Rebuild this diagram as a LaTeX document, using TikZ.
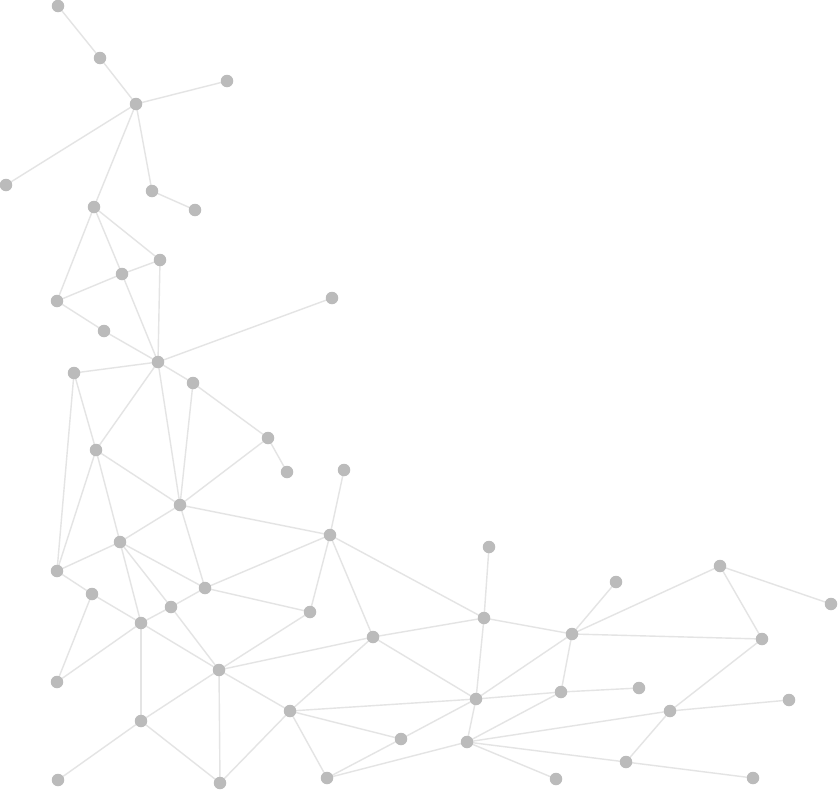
\documentclass[tikz,border=0pt]{standalone}
\begin{document}
\begin{tikzpicture}[x=1pt,y=-1pt,
  dot/.style={circle,fill=dotgray,inner sep=0pt,minimum size=12.5pt},
  link/.style={draw=linkgray,line width=1.4pt}]
\definecolor{dotgray}{HTML}{BBBBBB}
\definecolor{linkgray}{HTML}{E4E4E4}
\useasboundingbox[fill=white] (0,0) rectangle (838,790);
\foreach \n/\x/\y in {
 1/58/6, 2/100/58, 3/136/104, 4/227/81, 5/6/185, 6/152/191, 7/195/210,
 8/94/207, 9/160/260, 10/122/274, 11/57/301, 12/104/331, 13/158/362, 14/332/298,
 15/74/373, 16/193/383, 17/96/450, 18/268/438, 19/287/472, 20/344/470,
 21/180/505, 22/330/535, 23/120/542, 24/57/571, 25/205/588, 26/92/594,
 27/171/607, 28/141/623, 29/310/612, 30/373/637, 31/219/670, 32/57/682,
 33/290/711, 34/141/721, 35/58/780, 36/220/783, 37/327/778,
 38/489/547, 39/616/582, 40/720/566, 41/831/604, 42/484/618, 43/572/634,
 44/762/639, 45/561/692, 46/639/688, 47/476/699, 48/789/700, 49/670/711,
 50/401/739, 51/467/742, 52/556/779, 53/626/762, 54/753/778}
 { \coordinate (n\n) at (\x,\y); }
\foreach \a/\b in {
 1/2, 2/3, 3/4, 3/5, 3/8, 3/6, 6/7, 8/9, 8/10, 8/11, 10/9, 10/11, 10/13,
 9/13, 11/12, 12/13, 13/14, 13/15, 13/17, 13/21, 13/16,
 15/17, 15/24, 16/18, 16/21, 18/19, 18/21, 17/21, 17/23, 17/24,
 21/22, 21/23, 21/25, 20/22, 22/25, 22/29, 22/30, 22/42,
 23/24, 23/25, 23/27, 23/28, 24/26, 26/32, 26/28, 25/27, 25/29,
 27/28, 27/31, 28/31, 28/32, 28/34, 29/31, 31/30, 31/33, 31/34, 31/36,
 34/35, 34/36, 33/36, 33/30, 33/37, 33/47, 33/50, 37/50, 37/51,
 38/42, 42/30, 42/43, 42/47, 30/47, 39/43, 40/43, 40/41, 40/44,
 43/44, 43/45, 43/47, 44/49, 45/46, 45/47, 45/51, 47/50, 47/51,
 48/49, 49/51, 49/53, 51/52, 51/53, 53/54}
 { \draw[link] (n\a) -- (n\b); }
\foreach \n in {1,...,54} { \node[dot] (d\n) at (n\n) {}; }
\end{tikzpicture}
\end{document}
